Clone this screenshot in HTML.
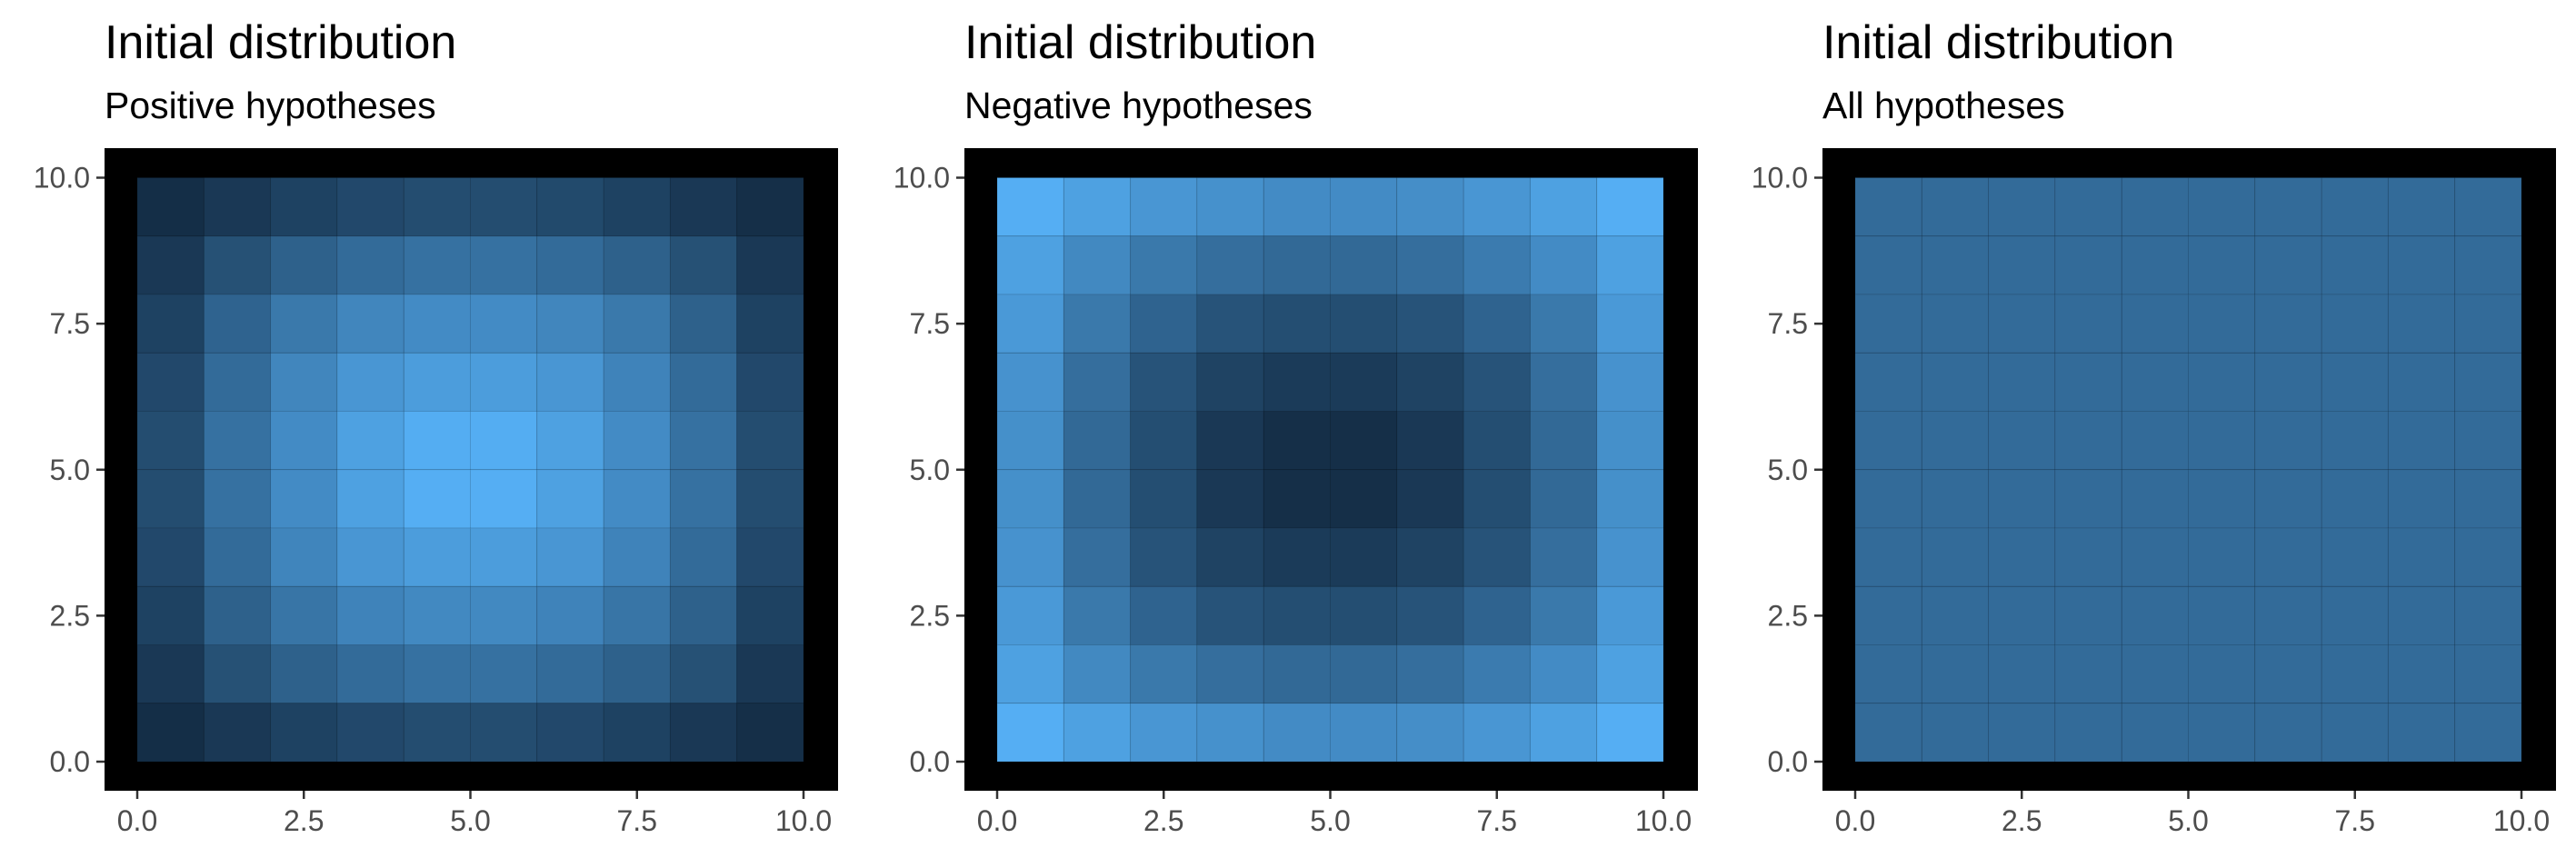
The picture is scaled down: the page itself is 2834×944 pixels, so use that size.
<!DOCTYPE html>
<html><head><meta charset="utf-8"><style>
html,body{margin:0;padding:0;background:#fff;}
svg{display:block;font-family:"Liberation Sans",sans-serif;}
</style></head><body>
<svg id="chart" width="2834" height="944" viewBox="0 0 2834 944" xmlns="http://www.w3.org/2000/svg"></svg>
<script>
const titles = ["Initial distribution","Initial distribution","Initial distribution"];
const subtitles = ["Positive hypotheses","Negative hypotheses","All hypotheses"];
const tickValues = [0,2.5,5,7.5,10];
const tickLabels = ["0.0","2.5","5.0","7.5","10.0"];
// rows listed top (y 9-10) to bottom (y 0-1), scaled 0..1 for the colour gradient
const positiveValues = [
 [0.02,0.10,0.17,0.22,0.25,0.25,0.23,0.17,0.10,0.03],
 [0.10,0.28,0.40,0.48,0.52,0.52,0.48,0.40,0.28,0.10],
 [0.17,0.42,0.58,0.68,0.72,0.72,0.68,0.58,0.40,0.17],
 [0.22,0.48,0.68,0.80,0.85,0.85,0.80,0.66,0.48,0.22],
 [0.25,0.52,0.72,0.88,0.97,0.97,0.88,0.72,0.52,0.25],
 [0.25,0.52,0.72,0.88,0.98,0.98,0.88,0.72,0.52,0.25],
 [0.22,0.48,0.67,0.80,0.85,0.85,0.80,0.66,0.48,0.22],
 [0.17,0.40,0.55,0.66,0.70,0.70,0.66,0.55,0.40,0.17],
 [0.10,0.28,0.40,0.48,0.52,0.52,0.48,0.40,0.28,0.10],
 [0.02,0.10,0.17,0.22,0.25,0.25,0.22,0.17,0.10,0.03]
];
const negativeValues = [
 [0.98,0.88,0.80,0.76,0.72,0.72,0.74,0.80,0.88,0.98],
 [0.88,0.70,0.58,0.50,0.46,0.46,0.50,0.60,0.72,0.88],
 [0.82,0.58,0.42,0.30,0.26,0.26,0.30,0.42,0.58,0.82],
 [0.77,0.50,0.30,0.18,0.12,0.12,0.18,0.30,0.50,0.77],
 [0.75,0.46,0.26,0.10,0.03,0.03,0.10,0.26,0.46,0.75],
 [0.75,0.46,0.26,0.10,0.03,0.03,0.10,0.26,0.46,0.75],
 [0.77,0.50,0.30,0.18,0.12,0.12,0.18,0.30,0.50,0.77],
 [0.82,0.58,0.42,0.30,0.26,0.26,0.30,0.42,0.58,0.82],
 [0.88,0.70,0.58,0.50,0.46,0.46,0.50,0.60,0.72,0.88],
 [0.98,0.88,0.80,0.76,0.72,0.72,0.74,0.80,0.88,0.98]
];
const allValues = [
 [0.48,0.48,0.48,0.48,0.48,0.48,0.48,0.48,0.48,0.48],
 [0.48,0.48,0.48,0.48,0.48,0.48,0.48,0.48,0.48,0.48],
 [0.48,0.48,0.48,0.48,0.48,0.48,0.48,0.48,0.48,0.48],
 [0.48,0.48,0.48,0.48,0.48,0.48,0.48,0.48,0.48,0.48],
 [0.48,0.48,0.48,0.48,0.48,0.48,0.48,0.48,0.48,0.48],
 [0.48,0.48,0.48,0.48,0.48,0.48,0.48,0.48,0.48,0.48],
 [0.48,0.48,0.48,0.48,0.48,0.48,0.48,0.48,0.48,0.48],
 [0.48,0.48,0.48,0.48,0.48,0.48,0.48,0.48,0.48,0.48],
 [0.48,0.48,0.48,0.48,0.48,0.48,0.48,0.48,0.48,0.48],
 [0.48,0.48,0.48,0.48,0.48,0.48,0.48,0.48,0.48,0.48]
];
const panelData = [positiveValues, negativeValues, allValues];
const panelNames = ["positive","negative","all"];

const NS = "http://www.w3.org/2000/svg";
const svg = document.getElementById("chart");
function mk(tag, attrs, parent){
  const e = document.createElementNS(NS, tag);
  for (const k in attrs) e.setAttribute(k, attrs[k]);
  parent.appendChild(e); return e;
}
function colour(v){
  const lo=[0x13,0x2b,0x43], hi=[0x56,0xb1,0xf7];
  const c=lo.map((l,i)=>Math.round(l+(hi[i]-l)*v));
  return "rgb("+c.join(",")+")";
}
const panelLefts = [115,1061,2005];
const panelW = 807, panelTop = 163, panelBottom = 870;
panelLefts.forEach((left, p) => {
  const g = mk("g", {}, svg);
  
  
  const xs = v => left + 36 + v * (733 / 10);
  const ys = v => 838 - v * (642.5 / 10);
  const t = mk("text", {x:left, y:64, "font-size":52, fill:"#000"}, g);
  t.textContent = titles[p];
  
  
  const st = mk("text", {x:left, y:130, "font-size":41, fill:"#000"}, g);
  st.textContent = subtitles[p];
  
  
  const bg = mk("rect", {x:left, y:panelTop, width:panelW, height:panelBottom-panelTop, fill:"#000"}, g);
  
  
  const vals = panelData[p];
  vals.forEach((row, r) => {
    const yTop = 10 - r;
    row.forEach((v, c) => {
      const x0 = xs(c), x1 = xs(c+1), y0 = ys(yTop), y1 = ys(yTop-1);
      const cell = mk("rect", {x:x0, y:y0, width:x1-x0, height:y1-y0, fill:colour(v), stroke:"rgba(0,0,0,0.1)", "stroke-width":1}, g);
      
      
    });
  });
  tickValues.forEach((tv, i) => {
    const yt = ys(tv);
    mk("line", {x1:left-9, x2:left, y1:yt, y2:yt, stroke:"#333", "stroke-width":2.5}, g);
    const yl = mk("text", {x:left-16, y:yt+11, "font-size":32, fill:"#4d4d4d", "text-anchor":"end"}, g);
    yl.textContent = tickLabels[i];
    
    
    const xt = xs(tv);
    mk("line", {x1:xt, x2:xt, y1:panelBottom, y2:panelBottom+9, stroke:"#333", "stroke-width":2.5}, g);
    const xl = mk("text", {x:xt, y:914, "font-size":32, fill:"#4d4d4d", "text-anchor":"middle"}, g);
    xl.textContent = tickLabels[i];
    
    
  });
});
</script>
</body></html>
